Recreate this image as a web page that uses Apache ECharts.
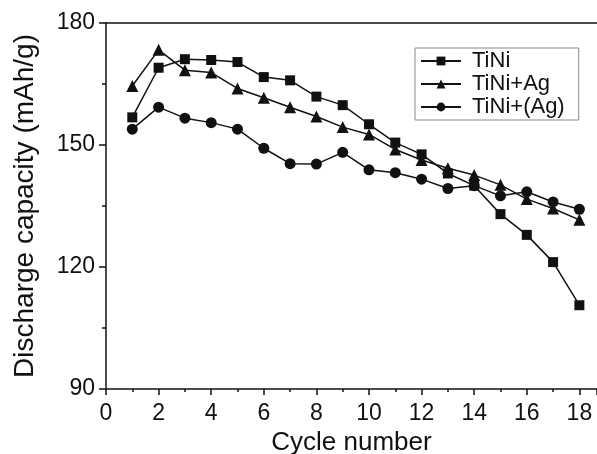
<!DOCTYPE html>
<html>
<head>
<meta charset="utf-8"/>
<title>Discharge capacity</title>
<script src="https://cdn.jsdelivr.net/npm/echarts@6/dist/echarts.min.js"></script>
<style>
html, body { margin: 0; padding: 0; background: #fff; }
#main { width: 597px; height: 454px; }
</style>
</head>
<body>
<div id="main"></div>
<script>
// values
const cycles = [1, 2, 3, 4, 5, 6, 7, 8, 9, 10, 11, 12, 13, 14, 15, 16, 17, 18]
const tiNi = [156.8, 169.0, 171.1, 170.9, 170.4, 166.7, 165.9, 161.9, 159.8, 155.1, 150.6, 147.7, 143.0, 140.0, 133.0, 127.9, 121.2, 110.6]
const tiNiAg = [164.5, 173.4, 168.4, 167.8, 163.9, 161.6, 159.3, 157.0, 154.4, 152.6, 148.9, 146.3, 144.3, 142.6, 140.2, 136.7, 134.4, 131.6]
const tiNiAgBr = [153.9, 159.3, 156.6, 155.5, 153.9, 149.2, 145.4, 145.3, 148.2, 143.9, 143.2, 141.6, 139.3, 140.0, 137.5, 138.5, 136.0, 134.2]
const seriesNames = ['TiNi', 'TiNi+Ag', 'TiNi+(Ag)']

const font = 'Liberation Sans, Arial, sans-serif'
const ink = '#111'
const xMax = 18.67 // axis runs off the right edge of the picture

function pairs(ys) {
    return cycles.map((c, i) => [c, ys[i]])
}

function lineSeries(name, ys, symbol, size) {
    return {
        name: name,
        type: 'line',
        data: pairs(ys),
        symbol: symbol,
        symbolSize: size,
        lineStyle: { color: ink, width: 1.5 },
        itemStyle: { color: ink },
        emphasis: { disabled: true },
        animation: false
    }
}

const chart = echarts.init(document.getElementById('main'))
chart.setOption({
    animation: false,
    grid: { left: 106, top: 23, bottom: 65, right: 0, containLabel: false, outerBoundsMode: 'none' },
    legend: {
        orient: 'vertical',
        left: 415,
        top: 48,
        data: seriesNames,
        itemWidth: 40,
        itemHeight: 11,
        itemGap: 1,
        padding: [2, 14, 2, 5],
        borderColor: '#888',
        borderWidth: 1,
        textStyle: { fontFamily: font, fontSize: 22, lineHeight: 21, color: ink, padding: [0, 0, 0, 6] }
    },
    xAxis: [{
        type: 'value',
        min: 0,
        max: xMax,
        interval: 2,
        name: 'Cycle number',
        nameLocation: 'middle',
        nameGap: 40,
        nameTextStyle: { fontFamily: font, fontSize: 26, color: ink },
        splitLine: { show: false },
        axisLine: { lineStyle: { color: ink, width: 1.5 } },
        axisTick: { inside: false, length: 6, lineStyle: { color: ink, width: 1.5 } },
        minorTick: { show: true, splitNumber: 2, length: 3, lineStyle: { color: ink, width: 1.5 } },
        axisLabel: {
            fontFamily: font, fontSize: 23, color: ink, margin: 13,
            formatter: v => (v > 18 ? '' : String(v))
        }
    }, {
        type: 'value',
        position: 'top',
        min: 0,
        max: xMax,
        axisLine: { show: true, onZero: false, lineStyle: { color: ink, width: 1.5 } },
        axisTick: { show: false },
        axisLabel: { show: false },
        splitLine: { show: false }
    }],
    yAxis: {
        type: 'value',
        min: 90,
        max: 180,
        interval: 30,
        name: 'Discharge capacity (mAh/g)',
        nameLocation: 'middle',
        nameGap: 67,
        nameTextStyle: { fontFamily: font, fontSize: 28, color: ink },
        splitLine: { show: false },
        axisLine: { show: true, lineStyle: { color: ink, width: 1.5 } },
        axisTick: { show: true, inside: false, length: 7, lineStyle: { color: ink, width: 1.5 } },
        minorTick: { show: true, splitNumber: 2, length: 4, lineStyle: { color: ink, width: 1.5 } },
        axisLabel: { fontFamily: font, fontSize: 23, color: ink, margin: 11 }
    },
    series: [
        lineSeries(seriesNames[0], tiNi, 'rect', 10),
        lineSeries(seriesNames[1], tiNiAg, 'triangle', 12),
        lineSeries(seriesNames[2], tiNiAgBr, 'circle', 11)
    ]
})
</script>
</body>
</html>
